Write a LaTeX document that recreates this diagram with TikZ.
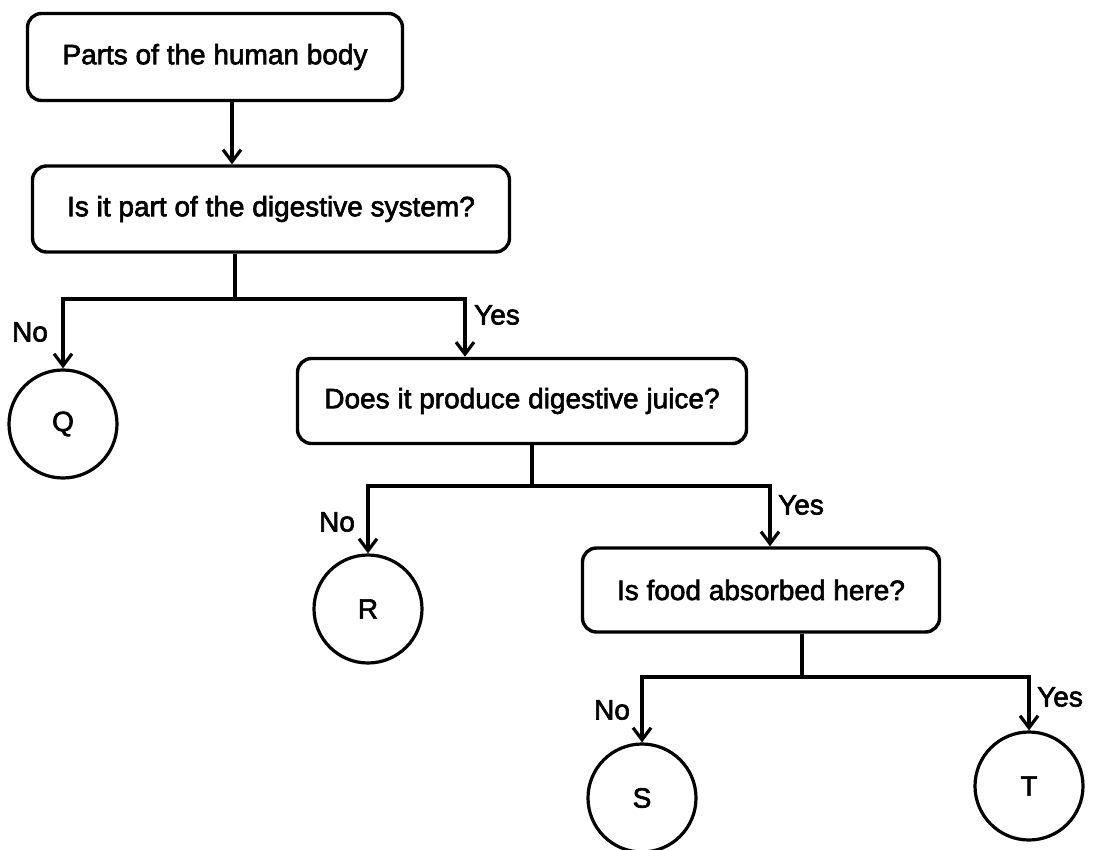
\documentclass[tikz,border=0pt]{standalone}
\usepackage{fontspec}
\newfontfamily\diagfont{Liberation Sans}[FakeBold=2.2]
\newcommand\diagtext{\diagfont\fontsize{28}{32}\selectfont}
\usetikzlibrary{arrows.meta}
\begin{document}
\begin{tikzpicture}[x=1pt,y=-1pt,
  every node/.style={font=\diagtext},
  qbox/.style={draw, line width=3.4pt, rounded corners=14pt, inner sep=0pt},
  leaf/.style={draw, circle, line width=3.2pt, minimum size=108pt, inner sep=0pt},
  link/.style={line width=3.2pt},
  arr/.style={line width=3.2pt, -{Straight Barb[length=12pt,width=18pt]}},
  tag/.style={inner sep=0pt}]
\useasboundingbox (0,0) rectangle (1116,850);

% question boxes
\node[qbox, minimum width=375pt, minimum height=87pt] (b1) at (215,57) {Parts of the human body};
\node[qbox, minimum width=477pt, minimum height=86pt] (b2) at (271,209) {Is it part of the digestive system?};
\node[qbox, minimum width=449pt, minimum height=85pt] (b3) at (522,401) {Does it produce digestive juice?};
\node[qbox, minimum width=357pt, minimum height=84pt] (b4) at (761,590) {Is food absorbed here?};

% leaves
\node[leaf] (q) at (63,424) {Q};
\node[leaf] (r) at (368,609) {R};
\node[leaf] (s) at (642,798) {S};
\node[leaf] (t) at (1029,786) {T};

% junction coordinates
\coordinate (k0) at (232,0);
\coordinate (j1) at (235,299);
\coordinate (x1) at (465,0);
\coordinate (j2) at (532,486);
\coordinate (x2) at (770,0);
\coordinate (j3) at (802,677);

% connectors
\draw[arr] (b1.south -| k0) -- (b2.north -| k0);

\draw[link] (b2.south -| j1) -- (j1);
\draw[arr] (j1) -| (q.north);
\draw[arr] (j1) -| (b3.north -| x1);

\draw[link] (b3.south -| j2) -- (j2);
\draw[arr] (j2) -| (r.north);
\draw[arr] (j2) -| (b4.north -| x2);

\draw[link] (b4.south -| j3) -- (j3);
\draw[arr] (j3) -| (s.north);
\draw[arr] (j3) -| (t.north);

% labels
\node[tag] (n1) at (30,332) {No};
\node[tag] (e1) at (497,315) {Yes};
\node[tag] (n2) at (337,522) {No};
\node[tag] (e2) at (801,505) {Yes};
\node[tag] (n3) at (612,710) {No};
\node[tag] (e3) at (1060,697) {Yes};
\end{tikzpicture}
\end{document}
